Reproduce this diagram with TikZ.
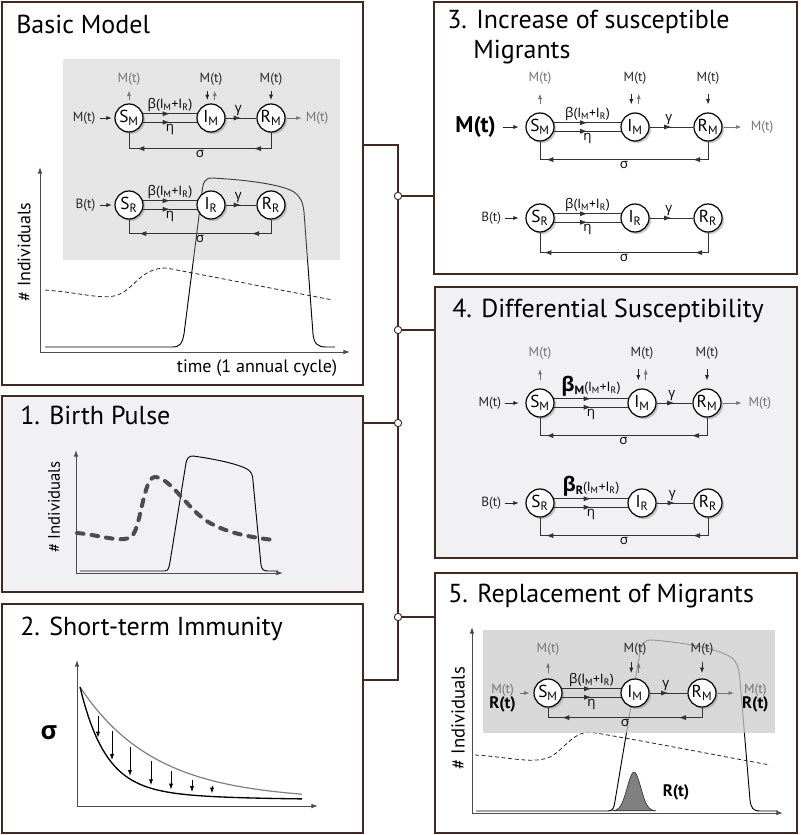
\documentclass[tikz,border=0pt]{standalone}
\usepackage{fontspec}
\setmainfont{PT Sans}
\newfontfamily\grk{Open Sans}
\usepackage{tikz}
\usetikzlibrary{arrows.meta,positioning,calc,fit,shadows,decorations.markings}
\definecolor{framebrown}{HTML}{3E2A20}
\definecolor{panelgray}{HTML}{F1F1F3}
\definecolor{inkgray}{HTML}{333333}
\newcommand{\gbeta}{{\grk β}}
\newcommand{\geta}{{\grk η}}
\newcommand{\ggamma}{{\grk γ}}
\newcommand{\gsigma}{{\grk σ}}
\newcommand{\gbetabold}[1]{{\grk\bfseries\fontsize{15}{15}\selectfont β}\raisebox{-0.45ex}{\bfseries\fontsize{9}{9}\selectfont #1}}
\newcommand{\infrate}[1]{#1(I\textsubscript{M}+I\textsubscript{R})}
\tikzset{
  panel/.style={draw=framebrown,line width=1.4pt,inner sep=0pt},
  paneltitle/.style={anchor=base west,inner sep=0pt,font=\fontsize{19.5}{22}\selectfont},
  compart/.style={circle,draw=black,line width=0.9pt,fill=white,minimum size=21pt,inner sep=0pt,
    font=\fontsize{13}{13}\selectfont,
    drop shadow={shadow xshift=1.5pt,shadow yshift=-1.5pt,fill=black!40,opacity=0.55}},
  ratelab/.style={font=\fontsize{10}{11}\selectfont,inner sep=1.2pt},
  inlab/.style={font=\fontsize{10}{11}\selectfont,text=black!85,inner sep=1pt},
  outlab/.style={font=\fontsize{10}{11}\selectfont,text=black!55,inner sep=1pt},
  inarrow/.style={-{Latex[length=4pt,width=3pt]},draw=black!85,line width=0.55pt},
  outarrow/.style={-{Latex[length=4pt,width=3pt]},draw=black!55,line width=0.55pt},
  flowline/.style={draw=inkgray,line width=0.65pt,postaction={decorate},
    decoration={markings,mark=at position 0.5 with {\arrow{Latex[length=5.5pt,width=3.8pt]}}}},
  loopline/.style={draw=inkgray,line width=0.65pt,postaction={decorate},
    decoration={markings,mark=at position 25pt with {\arrow{Latex[length=5.5pt,width=3.8pt]}},
      mark=at position -18pt with {\arrow{Latex[length=5.5pt,width=3.8pt]}}}},
  axisline/.style={-{Latex[length=5pt,width=3.5pt]},draw=black!70,line width=0.7pt},
  axislab/.style={font=\fontsize{13.5}{14}\selectfont,inner sep=0pt},
  curveline/.style={draw=black,line width=0.7pt},
  thindash/.style={draw=black!85,line width=0.6pt,dash pattern=on 3pt off 2pt},
  pulsedash/.style={draw=black!70,line width=3pt,dash pattern=on 5pt off 6pt,line cap=round},
  decayarrow/.style={-{Latex[length=4.5pt,width=3.2pt]},draw=black,line width=0.7pt},
  bus/.style={draw=framebrown,line width=1pt},
  junction/.style={circle,draw=framebrown,line width=0.7pt,fill=white,minimum size=5.5pt,inner sep=0pt},
  declare function={upc(\u)=800-113*exp(-(\u-80)/75);
    lowc(\u)=800-100*exp(-(\u-80)/25)-13*exp(-(\u-80)/90);}
}
% one S-I-R chain: prefix, subscript, x of S, I, R, y, infection label, depth of the sigma loop
\newcommand{\sirchain}[8]{%
  \node[compart] (#1S) at (#3,#6) {S\textsubscript{#2}};
  \node[compart] (#1I) at (#4,#6) {I\textsubscript{#2}};
  \node[compart] (#1R) at (#5,#6) {R\textsubscript{#2}};
  \draw[flowline] (#1S.17) -- node[ratelab,above] {#7} (#1I.163);
  \draw[flowline] (#1S.-17) -- node[ratelab,below] {\geta} (#1I.-163);
  \draw[flowline] (#1I) -- node[ratelab,above,xshift=-2pt] {\ggamma} (#1R);
  \draw[loopline] (#1R.south) -- ++(0,#8) -| node[ratelab,below,pos=0.25] {\gsigma} (#1S.south);
}
% migration in and out above the chain: prefix, label gap, arrow trim
\newcommand{\migflows}[3]{%
  \node[outlab,above=#2 of #1S] (#1Sm) {M(t)};
  \node[inlab,above=#2 of #1I] (#1Im) {M(t)};
  \node[inlab,above=#2 of #1R] (#1Rm) {M(t)};
  \draw[outarrow,shorten <=#3,shorten >=#3] (#1S) -- (#1Sm);
  \draw[inarrow,shorten <=#3,shorten >=#3] ([xshift=-2.8pt]#1Im.south) -- ([xshift=-2.8pt]#1I.north);
  \draw[outarrow,shorten <=#3,shorten >=#3] ([xshift=2.8pt]#1I.north) -- ([xshift=2.8pt]#1Im.south);
  \draw[inarrow,shorten <=#3,shorten >=#3] (#1Rm) -- (#1R);
}
\begin{document}
\begin{tikzpicture}[x=0.75pt,y=-0.75pt]
  \useasboundingbox (0,0) rectangle (800,835);
  % panels
  \node[panel,fill=white,fit={(2,2) (363,385)}] (basic) {};
  \node[panel,fill=panelgray,fit={(2,396) (363,592)}] (p1) {};
  \node[panel,fill=white,fit={(2,604) (363,833)}] (p2) {};
  \node[panel,fill=white,fit={(434,2) (797,274)}] (p3) {};
  \node[panel,fill=panelgray,fit={(435,287) (797,558)}] (p4) {};
  \node[panel,fill=white,fit={(435,573) (797,833)}] (p5) {};

  % bus between the panels
  \coordinate (bustop) at (398,145);
  \coordinate (busbot) at (398,680);
  \draw[bus] (bustop -| basic.east) -- (bustop) -- (busbot) -- (busbot -| p2.east);
  \foreach \jn/\jy in {j3/196,j4/330,j1/423,j5/617}
    \node[junction] (\jn) at (398,\jy) {};
  \draw[bus] (j3) -- (j3 -| p3.west);
  \draw[bus] (j4) -- (j4 -| p4.west);
  \draw[bus] (j1) -- (j1 -| p1.east);
  \draw[bus] (j5) -- (j5 -| p5.west);

  % Basic model
  \node[paneltitle] (tbasic) at (16,33) {Basic Model};
  \coordinate (bo) at (40,352);
  \coordinate (by) at (40,167);
  \coordinate (bx) at (350,352);
  \draw[axisline] (bo) -- (by);
  \draw[axisline] (bo) -- (bx);
  \node[axislab,rotate=90] (bylab) at (24,252) {\# Individuals};
  \node[axislab,anchor=base] (bxlab) at (257,372) {time (1 annual cycle)};
  \draw[curveline] (45,347) -- (172,347) .. controls (180,347) and (182,344) .. (184,334) -- (202,192)
    .. controls (203,182) and (205,178) .. (212,178) .. controls (250,180) and (283,185) .. (294,192)
    .. controls (300,196) and (303,202) .. (304,212) -- (313,334) .. controls (314,344) and (318,347) .. (326,347) -- (335,347);
  \draw[thindash] (45,290) .. controls (85,293) and (105,301) .. (120,294) .. controls (135,287) and (142,268) .. (166,268)
    .. controls (220,278) and (290,292) .. (333,300);
  \fill[black!29,fill opacity=0.35] (63,59) rectangle (340,260);
  \sirchain{bm}{M}{129}{211}{271}{118}{\infrate{\gbeta}}{16}
  \migflows{bm}{12pt}{2.5pt}
  \node[inlab,left=13pt of bmS] (bmin) {M(t)};
  \draw[inarrow,shorten <=2pt,shorten >=2pt] (bmin) -- (bmS);
  \node[outlab,right=14pt of bmR] (bmout) {M(t)};
  \draw[outarrow,shorten <=1pt,shorten >=2pt] (bmR) -- (bmout);
  \sirchain{br}{R}{129}{211}{271}{205}{\infrate{\gbeta}}{14}
  \node[inlab,left=13pt of brS] (brin) {B(t)};
  \draw[inarrow,shorten <=2pt,shorten >=2pt] (brin) -- (brS);

  % 1. Birth pulse
  \node[paneltitle] (tp1) at (20,424) {1. Birth Pulse};
  \coordinate (o1) at (76,573);
  \coordinate (y1) at (76,450);
  \coordinate (x1) at (283,573);
  \draw[axisline] (o1) -- (y1);
  \draw[axisline] (o1) -- (x1);
  \node[axislab,rotate=90,font=\fontsize{12.5}{13}\selectfont] (ylab1) at (54,507) {\# Individuals};
  \draw[curveline] (80,571) -- (165,571) .. controls (168,571) and (169,568) .. (170,562) -- (186,463)
    .. controls (187,458) and (189,456) .. (193,456) .. controls (215,459) and (238,464) .. (247,469)
    .. controls (251,471) and (253,475) .. (253,481) -- (261,565) .. controls (262,570) and (264,571) .. (268,571) -- (278,571);
  \draw[pulsedash] (77,533) .. controls (100,535) and (120,543) .. (131,537) .. controls (141,530) and (143,477) .. (155,477)
    .. controls (170,478) and (185,505) .. (205,520) .. controls (225,533) and (250,537) .. (273,540);

  % 2. Short-term immunity
  \node[paneltitle] (tp2) at (20,635) {2. Short-term Immunity};
  \coordinate (o2) at (77,806);
  \coordinate (y2) at (77,660);
  \coordinate (x2) at (318,806);
  \draw[axisline] (o2) -- (y2);
  \draw[axisline] (o2) -- (x2);
  \node[font={\grk\bfseries\fontsize{19}{19}\selectfont}] (sig2) at (49,733) {σ};
  \draw[draw=black!50,line width=0.9pt] plot[domain=80:302,samples=80] (\x,{upc(\x)});
  \draw[curveline,line width=1pt] plot[domain=80:302,samples=80] (\x,{lowc(\x)});
  \foreach \xa in {98,112,130,151,171,192,212}
    \draw[decayarrow] (\xa,{upc(\xa)+5}) -- (\xa,{lowc(\xa)-3});

  % 3. Increase of susceptible migrants
  \node[paneltitle] (tp3a) at (447,28) {3. Increase of susceptible};
  \node[paneltitle] (tp3b) at (473,58) {Migrants};
  \sirchain{im}{M}{540}{635}{708}{127}{\infrate{\gbeta}}{18}
  \migflows{im}{20pt}{6pt}
  \node[font=\bfseries\fontsize{17}{18}\selectfont,inner sep=1pt,left=21pt of imS] (imin) {M(t)};
  \draw[inarrow,shorten <=4pt,shorten >=5pt] (imin) -- (imS);
  \node[outlab,right=20pt of imR] (imout) {M(t)};
  \draw[outarrow,shorten <=1pt,shorten >=6pt] (imR) -- (imout);
  \sirchain{ir}{R}{540}{635}{708}{218}{\infrate{\gbeta}}{20}
  \node[inlab,left=17pt of irS] (irin) {B(t)};
  \draw[inarrow,shorten <=2pt,shorten >=5pt] (irin) -- (irS);

  % 4. Differential susceptibility
  \node[paneltitle] (tp4) at (452,317) {4. Differential Susceptibility};
  \sirchain{dm}{M}{540}{642}{707}{403}{\infrate{\gbetabold{M}}}{18}
  \migflows{dm}{20.5pt}{6pt}
  \node[inlab,left=17pt of dmS] (dmin) {M(t)};
  \draw[inarrow,shorten <=2pt,shorten >=5pt] (dmin) -- (dmS);
  \node[outlab,right=19pt of dmR] (dmout) {M(t)};
  \draw[outarrow,shorten <=1pt,shorten >=4pt] (dmR) -- (dmout);
  \sirchain{dr}{R}{540}{642}{708}{503}{\infrate{\gbetabold{R}}}{18}
  \node[inlab,left=17pt of drS] (drin) {B(t)};
  \draw[inarrow,shorten <=2pt,shorten >=5pt] (drin) -- (drS);

  % 5. Replacement of migrants
  \node[paneltitle] (tp5) at (448,602) {5. Replacement of Migrants};
  \coordinate (o5) at (472,813);
  \coordinate (y5) at (472,627);
  \coordinate (x5) at (783,813);
  \draw[axisline] (o5) -- (y5);
  \draw[axisline] (o5) -- (x5);
  \node[axislab,rotate=90,font=\fontsize{14}{14}\selectfont] (ylab5) at (458,718) {\# Individuals};
  \draw[curveline] (476,811) -- (608,811) .. controls (613,811) and (614,808) .. (615,801) -- (640,652)
    .. controls (642,643) and (644,640) .. (652,640) .. controls (690,643) and (722,650) .. (732,658)
    .. controls (737,662) and (739,668) .. (740,680) -- (750,800) .. controls (751,808) and (753,811) .. (760,811) -- (778,811);
  \draw[thindash] (475,755) .. controls (510,757) and (535,765) .. (552,756) .. controls (566,747) and (572,733) .. (590,732)
    .. controls (650,742) and (720,756) .. (770,765);
  \filldraw[fill=black!50,draw=black!80,line width=0.5pt] plot[domain=612:656,samples=40] (\x,{811-39*exp(-((\x-634)/9.5)^2)}) -- cycle;
  \node[font=\bfseries\fontsize{12.5}{13}\selectfont] (rtlab) at (676,792) {R(t)};
  \fill[black!20,fill opacity=0.75] (483,630) rectangle (775,733);
  \sirchain{rm}{M}{548}{635}{702}{693}{\infrate{\gbeta}}{10}
  \migflows{rm}{16pt}{4pt}
  \node[align=center,font=\bfseries\fontsize{12.5}{13}\selectfont,inner sep=1pt,left=12pt of rmS,yshift=-4pt] (rmin)
    {{\mdseries\fontsize{10}{11}\selectfont\color{black!55}M(t)}\\[-2pt]R(t)};
  \draw[outarrow,shorten <=2pt,shorten >=3pt] (rmin.east |- rmS) -- (rmS);
  \node[align=center,font=\bfseries\fontsize{12.5}{13}\selectfont,inner sep=1pt,right=18pt of rmR,yshift=-4pt] (rmout)
    {{\mdseries\fontsize{10}{11}\selectfont\color{black!55}M(t)}\\[-2pt]R(t)};
  \draw[outarrow,shorten <=1pt,shorten >=5pt] (rmR) -- (rmout.west |- rmR);
\end{tikzpicture}
\end{document}
